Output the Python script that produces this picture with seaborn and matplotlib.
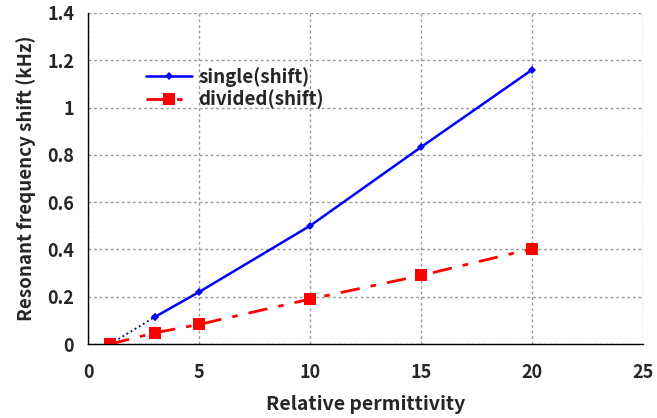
import matplotlib
matplotlib.use("Agg")
import matplotlib.pyplot as plt
import seaborn as sns
import pandas as pd

# Datos
x_single = [3, 5, 10, 15, 20]
y_single = [0.114, 0.22, 0.50, 0.833, 1.16]
x_origin = [1, 3]
y_origin = [0.0, 0.114]
x_divided = [1, 3, 5, 10, 15, 20]
y_divided = [0.0, 0.047, 0.083, 0.19, 0.29, 0.403]
x_ticks = [0, 5, 10, 15, 20, 25]
y_ticks = [0, 0.2, 0.4, 0.6, 0.8, 1.0, 1.2, 1.4]
y_tick_labels = ["0", "0.2", "0.4", "0.6", "0.8", "1", "1.2", "1.4"]

df_single = pd.DataFrame({"x": x_single, "y": y_single})
df_origin = pd.DataFrame({"x": x_origin, "y": y_origin})
df_divided = pd.DataFrame({"x": x_divided, "y": y_divided})

sns.set_theme(style="white")
plt.rcParams["font.family"] = ["Noto Sans CJK JP", "DejaVu Sans"]
plt.rcParams["font.weight"] = "bold"

fig = plt.figure(figsize=(6.57, 4.18), dpi=100)
ax = fig.add_axes([0.134, 0.177, 0.845, 0.792])

# tramo punteado desde el origen
sns.lineplot(data=df_origin, x="x", y="y", ax=ax, color="navy", linestyle=":",
             linewidth=1.3, marker="D", markersize=4, markeredgewidth=0)
sns.lineplot(data=df_divided, x="x", y="y", ax=ax, color="red",
             linestyle=(0, (7, 4, 2, 4)), linewidth=2, marker="s",
             markersize=9, markeredgewidth=0, label="divided(shift)")
sns.lineplot(data=df_single, x="x", y="y", ax=ax, color="blue", linewidth=1.8,
             marker="D", markersize=4.5, markeredgewidth=0, label="single(shift)")

ax.set_xlim(0, 25)
ax.set_ylim(0, 1.4)
ax.set_xticks(x_ticks)
ax.set_yticks(y_ticks)
ax.set_yticklabels(y_tick_labels)
ax.grid(True, color="#999999", linestyle=(0, (2, 2)), linewidth=1)
for s in ["top", "right"]:
    ax.spines[s].set_visible(False)
for s in ["left", "bottom"]:
    ax.spines[s].set_color("black")
    ax.spines[s].set_linewidth(1)
ax.tick_params(axis="both", direction="out", length=4, width=1, color="black",
               labelsize=13, pad=6)
ax.tick_params(axis="x", pad=10)
ax.set_xlabel("Relative permittivity", fontsize=14, fontweight="bold", labelpad=9)
ax.set_ylabel("Resonant frequency shift (kHz)", fontsize=13.5, fontweight="bold", labelpad=8)

handles, labels = ax.get_legend_handles_labels()
order = [labels.index("single(shift)"), labels.index("divided(shift)")]
ax.legend([handles[i] for i in order], [labels[i] for i in order],
          loc="upper left", bbox_to_anchor=(0.09, 0.86), frameon=False,
          fontsize=13.5, handlelength=2.5, handletextpad=0.3, labelspacing=0.15,
          borderaxespad=0)

fig.savefig("out.png", dpi=100)
